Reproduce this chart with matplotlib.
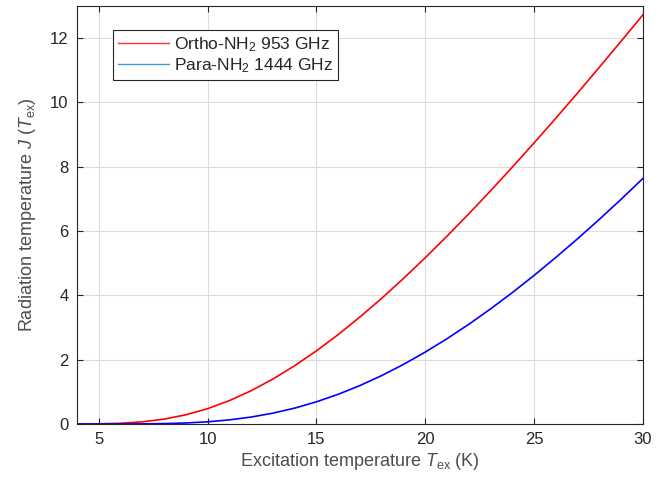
#! /usr/bin/env python3
import matplotlib.pyplot as plt
from matplotlib.lines import Line2D
import numpy as np

plt.rcParams["font.family"] = ["Liberation Sans", "DejaVu Sans"]
plt.rcParams["mathtext.fontset"] = "custom"
plt.rcParams["mathtext.rm"] = "Liberation Sans"
plt.rcParams["mathtext.it"] = "Liberation Sans:italic"

# Excitation temperature (K)
t_ex = [4, 5, 6, 7, 8, 9, 10, 11, 12, 13, 14, 15, 16, 17, 18, 19, 20,
        21, 22, 23, 24, 25, 26, 27, 28, 29, 30]

# Radiation temperature J(T_ex)
j_ortho = [0.0005, 0.0049, 0.022, 0.067, 0.151, 0.286, 0.477, 0.727, 1.035,
           1.398, 1.814, 2.276, 2.783, 3.331, 3.912, 4.528, 5.173, 5.844,
           6.539, 7.255, 7.992, 8.745, 9.515, 10.30, 11.10, 11.91, 12.73]
j_para = [0.0, 0.0001, 0.0007, 0.0035, 0.012, 0.031, 0.068, 0.128, 0.216,
          0.337, 0.494, 0.690, 0.924, 1.196, 1.507, 1.854, 2.238, 2.654,
          3.102, 3.581, 4.088, 4.623, 5.183, 5.765, 6.369, 6.993, 7.640]

labels = [r"Ortho-NH$_2$ 953 GHz", r"Para-NH$_2$ 1444 GHz"]

text_color = "#262626"

fig = plt.figure(figsize=(6.71, 4.84), dpi=100)
ax = fig.add_axes([0.1148, 0.124, 0.8435, 0.8636])

ax.plot(t_ex, j_ortho, color="#ff0000", lw=1.2)
ax.plot(t_ex, j_para, color="#0000ff", lw=1.2)

ax.set_xlim(4, 30)
ax.set_ylim(0, 13)
ax.set_xticks(np.arange(5, 31, 5))
ax.set_yticks(np.arange(0, 13, 2))
ax.grid(True, color="#dcdcdc", lw=0.8)
ax.set_axisbelow(True)
ax.tick_params(direction="in", length=4.5, width=0.8, colors=text_color,
               labelsize=12, top=True, right=True, pad=6)
for s in ax.spines.values():
    s.set_color(text_color)
    s.set_linewidth(0.8)

ax.set_xlabel(r"Excitation temperature $T_{\rm ex}$ (K)", fontsize=13,
              color="#4d4d4d", labelpad=3)
ax.set_ylabel(r"Radiation temperature $J$ ($T_{\rm ex}$)", fontsize=13,
              color="#4d4d4d", labelpad=9)

handles = [
    Line2D([], [], color="#ff3333", lw=1.0),
    Line2D([], [], color="#3c9be0", lw=1.0),
]
leg = ax.legend(handles, labels, loc="upper left",
                bbox_to_anchor=(0.0636, 0.943), fontsize=12.5,
                fancybox=False, framealpha=1, edgecolor=text_color,
                handlelength=2.9, handletextpad=0.3, borderpad=0.3,
                labelspacing=0.15, borderaxespad=0)
leg.get_frame().set_linewidth(0.8)
for t in leg.get_texts():
    t.set_color(text_color)

fig.savefig("out.png", dpi=100)
